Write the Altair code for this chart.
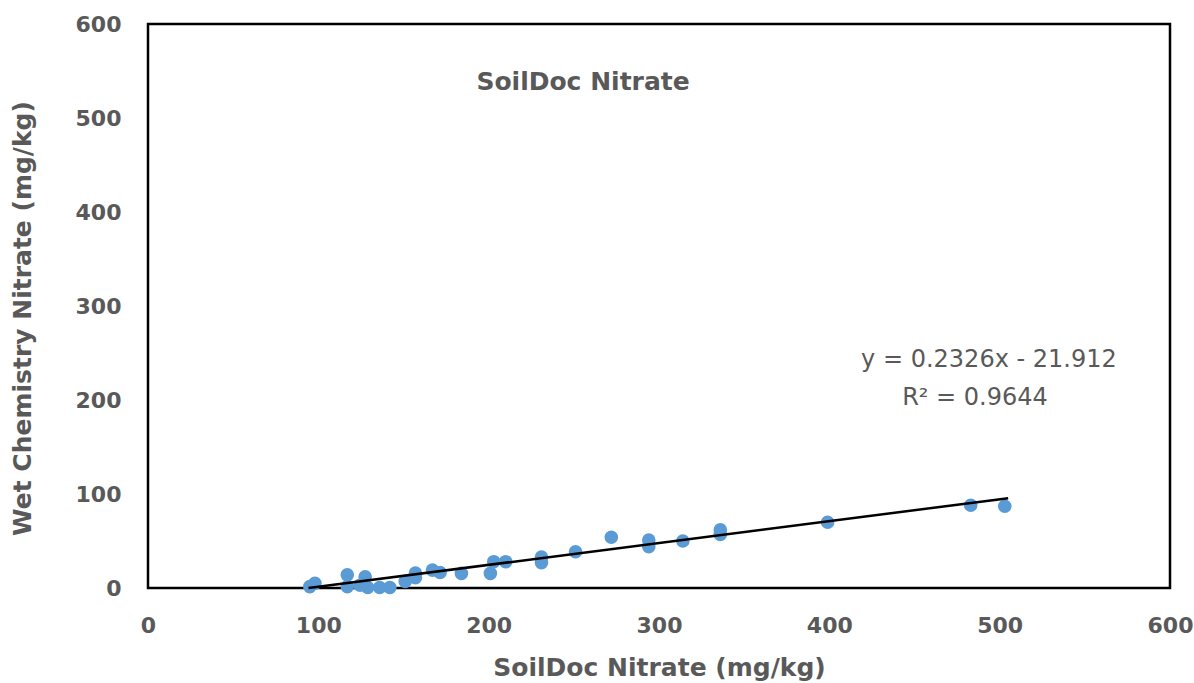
import altair as alt
import pandas as pd

# SoilDoc nitrate (x) vs wet chemistry nitrate (y), mg/kg
soildoc = [95, 98, 117, 117, 124.5, 127.5, 129, 136, 142, 151, 157, 157, 167, 171.5,
           184, 201, 203, 210, 231, 231, 251, 272, 294, 294, 314, 336, 336, 399, 483, 503]
wetchem = [1.5, 5, 14, 1.5, 3, 12, 0.5, 0.5, 0.5, 7, 16, 11, 19, 16.5,
           15.6, 15.6, 28, 28, 33, 27, 38.6, 54, 51, 44, 50, 62, 57, 70, 88, 87]

# Trendline as printed on the chart
slope = 0.2326
intercept = -21.912
trend_x = [-intercept / slope, 505]
trend_y = [slope * v + intercept for v in trend_x]

eq_text = "y = 0.2326x - 21.912"
r2_text = "R² = 0.9644"
title_text = "SoilDoc Nitrate"

pts = pd.DataFrame({"x": soildoc, "y": wetchem})
trend = pd.DataFrame({"x": trend_x, "y": trend_y})
one = pd.DataFrame({"k": [0]})

GRAY = "#595959"
BOLD_FONT = "DejaVu Sans"

xscale = alt.Scale(domain=[0, 600], nice=False, zero=True)
yscale = alt.Scale(domain=[0, 600], nice=False, zero=True)

xaxis = alt.Axis(values=[0, 100, 200, 300, 400, 500, 600], grid=False, domain=False,
                 ticks=False, tickSize=0, labelPadding=27, labelFlush=False,
                 labelFont=BOLD_FONT, labelFontWeight="bold", labelFontSize=22,
                 labelColor=GRAY,
                 title="SoilDoc Nitrate (mg/kg)", titleFont=BOLD_FONT, titleFontWeight="bold",
                 titleFontSize=25, titleColor=GRAY, titleY=79, titleBaseline="middle")
yaxis = alt.Axis(values=[0, 100, 200, 300, 400, 500, 600], grid=False, domain=False,
                 ticks=False, tickSize=0, labelPadding=27, labelFlush=False,
                 labelFont=BOLD_FONT, labelFontWeight="bold", labelFontSize=22,
                 labelColor=GRAY,
                 title="Wet Chemistry Nitrate (mg/kg)", titleFont=BOLD_FONT,
                 titleFontWeight="bold", titleFontSize=25, titleColor=GRAY,
                 titleAngle=270, titleX=-126, titleY=294, titleBaseline="middle",
                 titleAlign="center")

points = alt.Chart(pts).mark_circle(size=185, color="#5B9BD5", opacity=1).encode(
    x=alt.X("x:Q", scale=xscale, axis=xaxis),
    y=alt.Y("y:Q", scale=yscale, axis=yaxis),
)

line = alt.Chart(trend).mark_line(color="black", strokeWidth=2.5).encode(
    x=alt.X("x:Q", scale=xscale),
    y=alt.Y("y:Q", scale=yscale),
)

title = alt.Chart(one).mark_text(font=BOLD_FONT, fontWeight="bold", fontSize=25,
                                 color=GRAY, align="center", baseline="middle").encode(
    x=alt.datum(255.4), y=alt.datum(538), text=alt.value(title_text)
)
eq = alt.Chart(one).mark_text(font="DejaVu Sans", fontSize=24, color=GRAY,
                              align="center", baseline="middle").encode(
    x=alt.datum(493.7), y=alt.datum(242.6), text=alt.value(eq_text)
)
r2 = alt.Chart(one).mark_text(font="DejaVu Sans", fontSize=24, color=GRAY,
                              align="center", baseline="middle").encode(
    x=alt.datum(485.5), y=alt.datum(202.1), text=alt.value(r2_text)
)

chart = alt.layer(points, line, title, eq, r2).properties(
    width=1022, height=564,
    padding={"left": 148, "top": 24, "right": 24, "bottom": 95},
    autosize=alt.AutoSizeParams(type="none"),
    background="white",
).configure_view(stroke="black", strokeWidth=2.5)

chart.save("out.html", embed_options={"renderer": "svg", "actions": False})
